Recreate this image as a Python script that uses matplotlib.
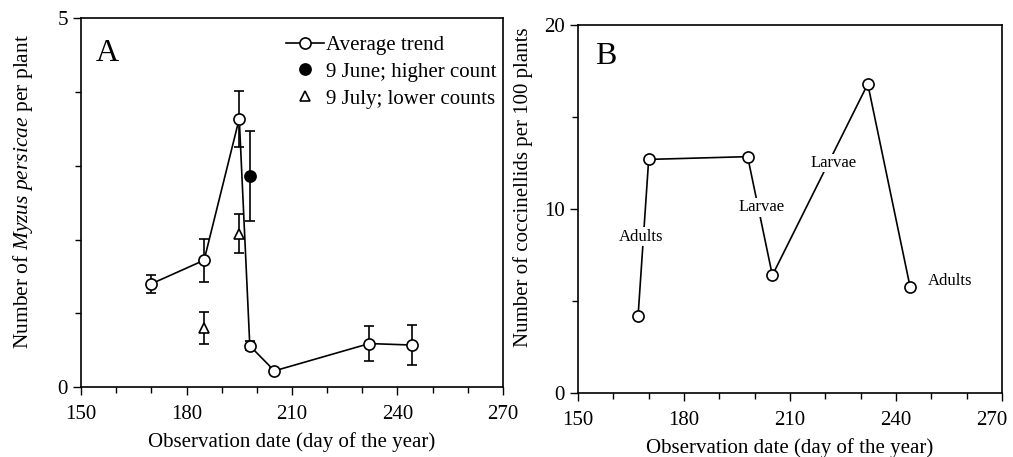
import matplotlib
matplotlib.use("Agg")
import matplotlib.pyplot as plt
import matplotlib.transforms as mtransforms
from matplotlib.lines import Line2D
from matplotlib.ticker import MultipleLocator

plt.rcParams["font.family"] = ["Liberation Serif", "DejaVu Serif"]
plt.rcParams["mathtext.fontset"] = "custom"
plt.rcParams["mathtext.it"] = "Liberation Serif:italic"
plt.rcParams["mathtext.rm"] = "Liberation Serif"

# ── Data ──────────────────────────────────────────────────────────────────────

# Panel A: Myzus persicae per plant
trend_day = [170, 185, 195, 198, 205, 232, 244]
trend_val = [1.40, 1.72, 3.64, 0.56, 0.22, 0.59, 0.57]
trend_err = [0.12, 0.29, 0.38, 0.06, 0.04, 0.24, 0.27]

june_day = [198]
june_val = [2.86]
june_err = [0.61]

july_day = [185, 195]
july_val = [0.80, 2.08]
july_err = [0.22, 0.26]

# Panel B: coccinellids per 100 plants
cocc_day = [167, 170, 198, 205, 232, 244]
cocc_val = [4.2, 12.7, 12.85, 6.4, 16.8, 5.75]

stage_labels = ["Adults", "Larvae", "Larvae", "Adults"]
stage_day = [167.8, 202, 222.2, 255.4]
stage_val = [8.5, 10.1, 12.5, 6.1]

legend_labels = ["Average trend", "9 June; higher count", "9 July; lower counts"]
XLABEL = "Observation date (day of the year)"

# ── Figure ────────────────────────────────────────────────────────────────────

fig = plt.figure(figsize=(10.13, 4.57), dpi=100)
axA = fig.add_axes([0.080, 0.153, 0.4165, 0.807])
axB = fig.add_axes([0.5706, 0.140, 0.4186, 0.805])

mk = dict(markersize=8, markeredgewidth=1.2, markeredgecolor="black")
eb = dict(capsize=3.5, elinewidth=1.2, capthick=1.2, zorder=3)

axA.errorbar(trend_day, trend_val, yerr=trend_err, color="black", lw=1.2,
             marker="o", markerfacecolor="white", **eb, **mk)
axA.errorbar(june_day, june_val, yerr=june_err, color="black", ls="none",
             marker="o", markerfacecolor="black", **eb, **mk)
axA.errorbar(july_day, july_val, yerr=july_err, color="black", ls="none",
             marker="^", markerfacecolor="white", **eb,
             markersize=7, markeredgewidth=1.2, markeredgecolor="black")

axA.set_xlim(150, 270)
axA.set_ylim(0, 5)
axA.set_yticks([0, 5])
axA.yaxis.set_minor_locator(MultipleLocator(1))
axA.set_ylabel(r"Number of $\it{Myzus\ persicae}$ per plant", fontsize=15.5)
axA.yaxis.set_label_coords(-0.108, 0.53)
axA.text(0.035, 0.945, "A", transform=axA.transAxes, fontsize=23,
         va="top", ha="left")

handles = [
    Line2D([], [], color="black", lw=1.2, marker="o", markerfacecolor="white", **mk),
    Line2D([], [], color="black", ls="none", marker="o", markerfacecolor="black", **mk),
    Line2D([], [], color="black", ls="none", marker="^", markerfacecolor="white",
           markersize=7, markeredgewidth=1.2, markeredgecolor="black"),
]
axA.legend(handles, legend_labels, loc="upper right", bbox_to_anchor=(1.012, 0.985),
           frameon=False, fontsize=15, handlelength=1.8, handletextpad=0.1,
           borderaxespad=0.25, labelspacing=0.35, borderpad=0.3)

axB.plot(cocc_day, cocc_val, color="black", lw=1.2, marker="o",
         markerfacecolor="white", zorder=3, **mk)
for lab, d, v in zip(stage_labels, stage_day, stage_val):
    axB.text(d, v, lab, fontsize=12, ha="center", va="center", zorder=4,
             bbox=dict(facecolor="white", edgecolor="none", pad=1))
axB.set_xlim(150, 270)
axB.set_ylim(0, 20)
axB.set_yticks([0, 10, 20])
axB.yaxis.set_minor_locator(MultipleLocator(5))
axB.set_ylabel("Number of coccinellids per 100 plants", fontsize=15)
axB.yaxis.set_label_coords(-0.105, 0.56)
axB.text(0.04, 0.955, "B", transform=axB.transAxes, fontsize=23,
         va="top", ha="left")

for ax in (axA, axB):
    ax.set_xticks([150, 180, 210, 240, 270])
    ax.xaxis.set_minor_locator(MultipleLocator(10))
    ax.set_xlabel(XLABEL, fontsize=15, labelpad=6)
    ax.tick_params(axis="both", which="major", direction="out", length=6,
                   width=1.0, labelsize=15)
    ax.tick_params(axis="x", which="major", pad=7)
    ax.tick_params(axis="both", which="minor", direction="out", length=4,
                   width=1.0)
    for sp in ax.spines.values():
        sp.set_linewidth(1.2)

# last x tick label of panel B sits a little left of its tick, as in the original
shift = mtransforms.ScaledTranslation(-10 / 100, 0, fig.dpi_scale_trans)
lastlab = axB.get_xticklabels()[-1]
lastlab.set_transform(lastlab.get_transform() + shift)

fig.savefig("out.png", dpi=100)
